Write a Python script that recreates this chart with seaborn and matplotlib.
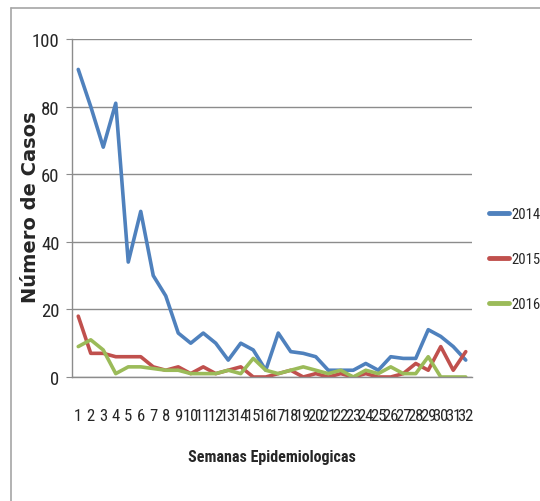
import pandas as pd
import matplotlib
matplotlib.use('Agg')
import matplotlib.pyplot as plt
from matplotlib import font_manager
import seaborn as sns

# Data
weeks = list(range(1, 33))
casos_2014 = [91, 80, 68, 81, 34, 49, 30, 24, 13, 10, 13, 10, 5, 10, 8, 2,
              13, 7.5, 7, 6, 2, 2, 2, 4, 2, 6, 5.5, 5.5, 14, 12, 9, 5]
casos_2015 = [18, 7, 7, 6, 6, 6, 3, 2, 3, 1, 3, 1, 2, 3, 0, 0,
              1, 2, 0, 1, 0, 1, 0, 1, 0, 0, 1, 4, 2, 9, 2, 7.5]
casos_2016 = [9, 11, 8, 1, 3, 3, 2.5, 2, 2, 1, 1, 1, 2, 1, 5.5, 2,
              1, 2, 3, 2, 1, 2, 0, 2, 1, 3, 1, 1, 6, 0, 0, 0]
series_names = ['2014', '2015', '2016']
colors = ['#4F81BD', '#C0504D', '#9BBB59']

df = pd.DataFrame({'Semana': weeks * 3,
                   'Casos': casos_2014 + casos_2015 + casos_2016,
                   'Año': [s for s in series_names for _ in weeks]})

sns.set_style('white')

# the original uses a very narrow font; take the narrowest one we have
available = {f.name for f in font_manager.fontManager.ttflist}
narrow_font = 'DejaVu Sans'
for cand in ['Liberation Sans Narrow', 'Roboto Condensed', 'Open Sans Condensed',
             'DejaVu Sans Condensed', 'Noto Sans Condensed']:
    if cand in available:
        narrow_font = cand
        break
else:
    cond = sorted(n for n in available if 'Condensed' in n or 'Narrow' in n)
    if cond:
        narrow_font = cond[0]
is_narrow = narrow_font != 'DejaVu Sans'
plt.rcParams['font.family'] = [narrow_font, 'DejaVu Sans']

tick_fs = 13.5 if is_narrow else 10
xtick_fs = 12 if is_narrow else 9

fig = plt.figure(figsize=(5.4, 5.02), dpi=100)
ax = fig.add_axes([72 / 540, 124 / 502, 400 / 540, 338 / 502])

sns.lineplot(data=df, x='Semana', y='Casos', hue='Año', hue_order=series_names,
             palette=colors, linewidth=2.6, ax=ax, legend=False)

grid_c = '#8C8C8C'
ax.set_xlim(0.5, 32.5)
ax.set_ylim(0, 100)
ax.set_yticks([0, 20, 40, 60, 80, 100])
ax.yaxis.grid(True, color=grid_c, linewidth=1)
ax.set_axisbelow(True)
for s in ['top', 'right']:
    ax.spines[s].set_visible(False)
for s in ['left', 'bottom']:
    ax.spines[s].set_color(grid_c)
    ax.spines[s].set_linewidth(1)

ax.set_xticks(weeks)
ax.set_xticklabels([str(w) for w in weeks], fontsize=xtick_fs)
ax.set_xticks([w - 0.5 for w in weeks] + [32.5], minor=True)
ax.tick_params(axis='x', which='major', length=0, pad=22)
ax.tick_params(axis='x', which='minor', length=6, color=grid_c, direction='out')
ax.tick_params(axis='y', length=4, color=grid_c, labelsize=tick_fs, pad=5, left=True)

ax.set_xlabel('Semanas Epidemiologicas', fontsize=11.5 if is_narrow else 10,
              fontweight='bold', labelpad=19)
ax.set_ylabel('Número de Casos', fontsize=14, fontweight='bold', family=['DejaVu Sans'])
ax.yaxis.set_label_coords(-0.08, 0.506)

# legend on the right edge
leg_fs = 10.5
handles = [plt.Line2D([], [], color=c, linewidth=3.5, solid_capstyle='round')
           for c in colors]
fig.legend(handles, series_names, loc='center left', bbox_to_anchor=(489 / 540, 0.482),
           frameon=False, fontsize=leg_fs, handlelength=20 / (leg_fs * 1.39),
           handletextpad=0.15, borderpad=0, borderaxespad=0, labelspacing=2.15)

# light frame: only the left and top edges show in the original
frame_c = '#A6A6A6'
fig.add_artist(plt.Line2D([11 / 540, 11 / 540], [0, 1 - 9 / 502],
                          transform=fig.transFigure, color=frame_c, linewidth=1.2))
fig.add_artist(plt.Line2D([11 / 540, 1], [1 - 9 / 502, 1 - 9 / 502],
                          transform=fig.transFigure, color=frame_c, linewidth=1.2))

fig.savefig('out.png', dpi=100)
